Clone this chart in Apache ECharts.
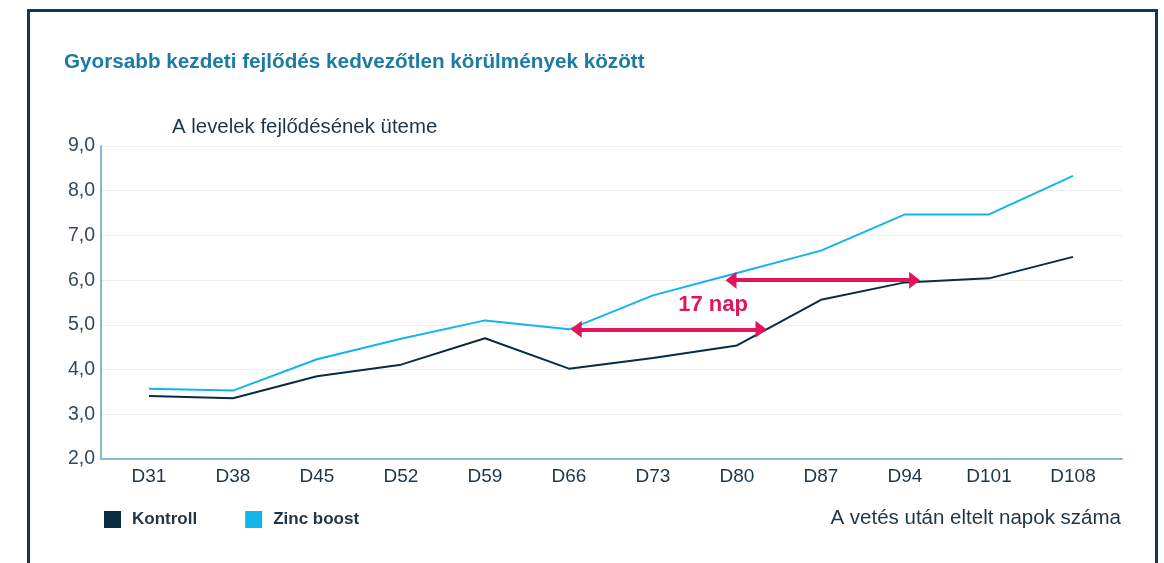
<!DOCTYPE html>
<html>
<head>
<meta charset="utf-8">
<script src="https://cdn.jsdelivr.net/npm/echarts@6/dist/echarts.min.js"></script>
<style>
  html, body { margin: 0; padding: 0; background: #fff; }
  #chart { width: 1164px; height: 563px; }
  .frame {
    position: absolute; left: 27px; top: 9px; width: 1125px; height: 600px;
    border: 3px solid #0f3a52; pointer-events: none;
  }
</style>
</head>
<body>
<div id="chart"></div>
<div class="frame"></div>
<script>
// kategóriák (napok a vetés után)
const days = ['D31', 'D38', 'D45', 'D52', 'D59', 'D66', 'D73', 'D80', 'D87', 'D94', 'D101', 'D108']
const kontroll = [3.41, 3.36, 3.85, 4.11, 4.70, 4.02, 4.26, 4.54, 5.56, 5.95, 6.04, 6.52]
const zincBoost = [3.57, 3.53, 4.23, 4.69, 5.10, 4.90, 5.66, 6.16, 6.66, 7.47, 7.47, 8.33]

// nyilak: [kezdő nap, záró nap, érték]
const arrow1 = [66.6, 82.0, 4.9]
const arrow2 = [79.5, 94.8, 6.0]
const gapLabel = '17 nap'
const gapLabelPos = [78, 5.45]

const titleText = 'Gyorsabb kezdeti fejlődés kedvezőtlen körülmények között'
const yName = 'A levelek fejlődésének üteme'
const xName = 'A vetés után eltelt napok száma'

const font = 'Liberation Sans, Arial, sans-serif'
const navy = '#0b2b42'
const sky = '#12b5ea'
const pink = '#e3145c'
const axisBlue = '#86b9d1'
const textDark = '#1d3546'

const chart = echarts.init(document.getElementById('chart'))

const arrowLine = (a) => [
  { coord: [a[0], a[2]], symbol: 'triangle', symbolSize: [17, 11] },
  { coord: [a[1], a[2]], symbol: 'triangle', symbolSize: [17, 11] },
]

chart.setOption({
  animation: false,
  textStyle: { fontFamily: font },
  title: [
    {
      text: titleText, left: 64, top: 52, padding: 0,
      textStyle: { color: '#1b7ba4', fontSize: 20.7, fontWeight: 'bold', fontFamily: font },
    },
    {
      text: yName, left: 172, top: 117, padding: 0,
      textStyle: { color: textDark, fontSize: 20.4, fontWeight: 'normal', fontFamily: font },
    },
    {
      text: xName, right: 43, top: 508, padding: 0,
      textStyle: { color: textDark, fontSize: 20.5, fontWeight: 'normal', fontFamily: font },
    },
  ],
  legend: {
    left: 104, top: 511, padding: 0,
    icon: 'rect', itemWidth: 17, itemHeight: 17, itemGap: 48,
    data: ['Kontroll', 'Zinc boost'],
    textStyle: { color: textDark, fontSize: 17, fontWeight: 'bold', fontFamily: font, padding: [0, 0, 0, 6] },
  },
  grid: [
    // tengelyvonalak és rácsvonalak
    { left: 101, right: 42, top: 146, height: 313 },
    // adatpontok
    { left: 107, right: 49, top: 146, height: 313 },
  ],
  xAxis: [
    {
      gridIndex: 0, type: 'category', data: days,
      axisLine: { lineStyle: { color: axisBlue, width: 2 } },
      axisTick: { show: false }, axisLabel: { show: false },
    },
    {
      gridIndex: 1, type: 'category', data: days, boundaryGap: true,
      axisLine: { show: false }, axisTick: { show: false },
      axisLabel: { color: textDark, fontSize: 19, margin: 8, fontFamily: font },
    },
    {
      gridIndex: 1, type: 'value', min: 27.5, max: 111.5, show: false,
    },
  ],
  yAxis: [
    {
      gridIndex: 0, type: 'value', min: 2, max: 9, interval: 1,
      axisLine: { show: true, lineStyle: { color: axisBlue, width: 2 } },
      axisTick: { show: false },
      axisLabel: {
        color: '#34495a', fontSize: 19.5, margin: 6, fontFamily: font,
        formatter: (v) => v.toFixed(1).replace('.', ','),
      },
      splitLine: { lineStyle: { color: '#eeeeee', width: 1 } },
    },
    { gridIndex: 1, type: 'value', min: 2, max: 9, show: false },
  ],
  series: [
    {
      name: 'Kontroll', type: 'line', data: kontroll,
      xAxisIndex: 1, yAxisIndex: 1,
      symbol: 'none', color: navy,
      lineStyle: { color: navy, width: 2 },
    },
    {
      name: 'Zinc boost', type: 'line', data: zincBoost,
      xAxisIndex: 1, yAxisIndex: 1,
      symbol: 'none', color: sky,
      lineStyle: { color: sky, width: 2 },
    },
    {
      name: 'annotation', type: 'line', data: [],
      xAxisIndex: 2, yAxisIndex: 1, silent: true,
      markLine: {
        silent: true,
        lineStyle: { color: pink, width: 4, type: 'solid' },
        itemStyle: { color: pink },
        label: { show: false },
        emphasis: { disabled: true },
        data: [arrowLine(arrow1), arrowLine(arrow2)],
      },
      markPoint: {
        silent: true,
        symbol: 'circle', symbolSize: 1,
        itemStyle: { color: 'rgba(0,0,0,0)' },
        label: {
          show: true, position: 'inside', formatter: gapLabel,
          color: pink, fontSize: 22, fontWeight: 'bold', fontFamily: font,
        },
        data: [{ coord: gapLabelPos }],
      },
    },
  ],
})
</script>
</body>
</html>
